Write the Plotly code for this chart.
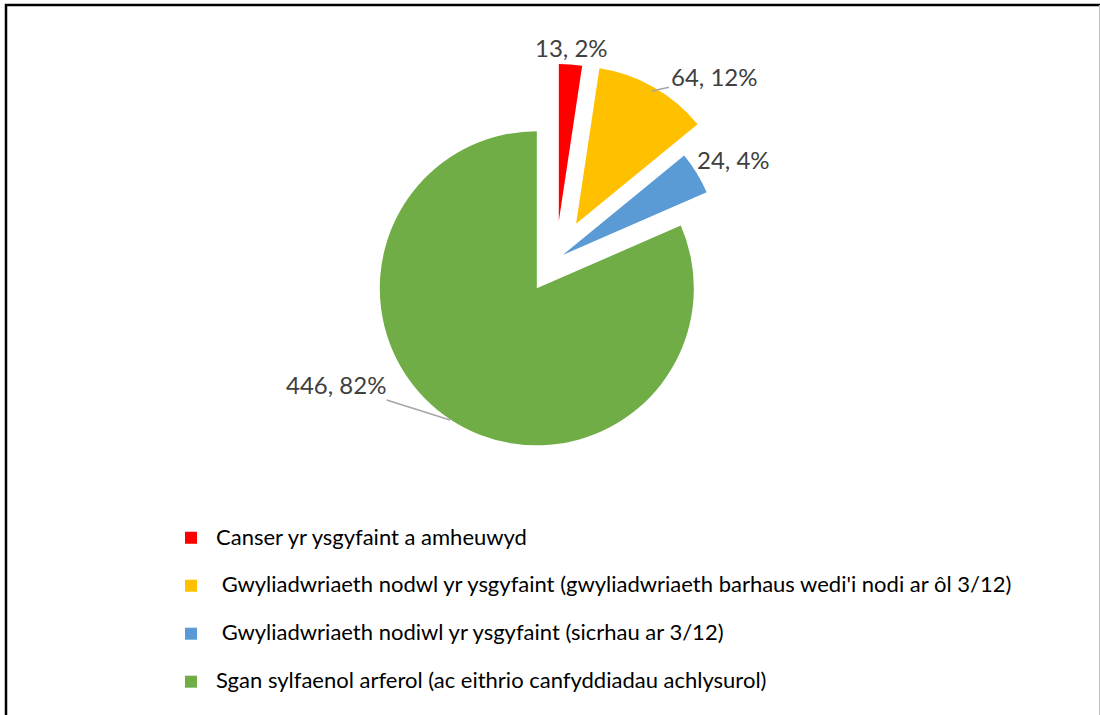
import plotly.graph_objects as go

# ---- data ----
categories = [
    "Canser yr ysgyfaint a amheuwyd",
    " Gwyliadwriaeth nodwl yr ysgyfaint (gwyliadwriaeth barhaus wedi'i nodi ar ôl 3/12)",
    " Gwyliadwriaeth nodiwl yr ysgyfaint (sicrhau ar 3/12)",
    "Sgan sylfaenol arferol (ac eithrio canfyddiadau achlysurol)",
]
values = [13, 64, 24, 446]
percent_labels = ["2%", "12%", "4%", "82%"]

# ---- style ----
colors = ["#FF0000", "#FFC000", "#5B9BD5", "#70AD47"]
pulls = [0.242, 0.259, 0.05, 0.223]
W, H = 1100, 715
FONT = "Lato"
LABEL_COLOR = "#404040"

# label placement (pixel centres) and leader-line targets
label_pos = [(571, 47), (714, 77), (733, 160), (336, 384)]
leader_to = [None, (652, 91), None, (450, 420)]

def px(x):
    return x / W

def py(y):
    return 1 - y / H

legend_names = []
for i, c in enumerate(categories):
    name = f"<span style='font-size:22px'>{c}</span>"
    if i < len(categories) - 1:
        name += "<br> "
    legend_names.append(name)

fig = go.Figure(
    go.Pie(
        labels=legend_names,
        values=values,
        marker=dict(colors=colors, line=dict(width=0)),
        pull=pulls,
        sort=False,
        direction="clockwise",
        rotation=0,
        textinfo="none",
        hoverinfo="label+value+percent",
        domain=dict(x=[0.32573, 0.68518], y=[0.36126, 0.91427]),
    )
)

annotations = []
for i, (v, p) in enumerate(zip(values, percent_labels)):
    tx, ty = label_pos[i]
    txt = f"{v}, {p}"
    if leader_to[i] is None:
        annotations.append(dict(
            x=px(tx), y=py(ty), xref="paper", yref="paper", text=txt,
            showarrow=False, font=dict(family=FONT, size=24, color=LABEL_COLOR),
            xanchor="center", yanchor="middle",
        ))
    else:
        lx, ly = leader_to[i]
        annotations.append(dict(
            x=px(lx), y=py(ly), xref="paper", yref="paper", text=txt,
            showarrow=True, arrowhead=0, arrowwidth=1.5, arrowcolor="#A6A6A6",
            ax=tx - lx, ay=ty - ly, standoff=0, startstandoff=0,
            font=dict(family=FONT, size=24, color=LABEL_COLOR),
        ))

shapes = [
    dict(type="path", xref="paper", yref="paper",
         path=f"M {px(6)},{-0.05} L {px(6)},{py(5)} L 1.01,{py(5)}",
         line=dict(color="black", width=2.5)),
    dict(type="line", xref="paper", yref="paper",
         x0=px(1099.5), x1=px(1099.5), y0=py(5), y1=-0.05,
         line=dict(color="#BFBFBF", width=1)),
]

fig.update_layout(
    width=W, height=H,
    margin=dict(l=0, r=0, t=0, b=0),
    paper_bgcolor="white",
    plot_bgcolor="white",
    font=dict(family=FONT, color="black"),
    showlegend=True,
    legend=dict(
        x=px(166), y=py(520), xanchor="left", yanchor="top",
        font=dict(family=FONT, size=17.3, color="black"),
        valign="top", itemwidth=40,
        bgcolor="rgba(0,0,0,0)",
    ),
    annotations=annotations,
    shapes=shapes,
)

fig.write_html(
    "out.html",
    config={"displayModeBar": False},
    post_script="document.body.style.margin='0';document.body.style.overflow='hidden';",
)
